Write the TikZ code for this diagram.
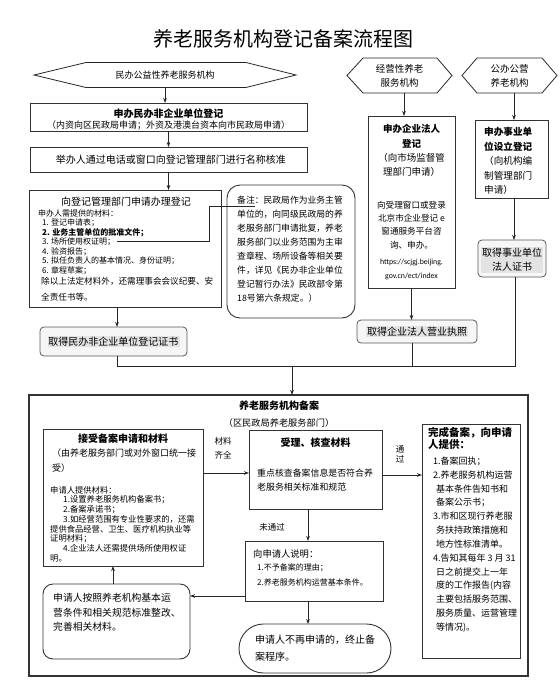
\documentclass[tikz,border=0pt]{standalone}
\usepackage{fontspec}
\setmainfont{Noto Sans CJK SC}
\newfontfamily\carl{Carlito}
\usetikzlibrary{arrows.meta,calc}
\newcommand\fsz[2]{\fontsize{#1}{#2}\selectfont}
\newcommand\bx[6]{\node[#6, anchor=north west, minimum width=#4pt-#2pt, minimum height=#5pt-#3pt] (#1) at (#2,#3) {};}
\tikzset{
 bxs/.style={draw=black!80, line width=0.9pt, fill=white, inner sep=0pt, outer sep=0pt},
 rbx/.style={bxs, rounded corners=#1},
 cert/.style={draw=black!65, line width=0.8pt, fill=gray!7, rounded corners=4pt, inner sep=0pt, outer sep=0pt},
 hl/.style={fill=gray!22, inner sep=1pt},
 tl/.style={anchor=base west, inner sep=0pt, align=left},
 tc/.style={inner sep=0pt, align=center},
 hexn/.style={inner sep=0pt, outer sep=0pt, align=center},
 arr/.style={-{Stealth[length=5pt,width=3.6pt]}, line width=0.8pt, draw=black!85},
 ln/.style={line width=0.8pt, draw=black!85},
}
\begin{document}
\begin{tikzpicture}[x=1pt,y=-1pt]
\useasboundingbox (0,0) rectangle (560,686);
\fill[white] (0,0) rectangle (560,686);

\node[font=\fsz{20}{24}] (title) at (283,39) {养老服务机构登记备案流程图};

% ---------- hexagons ----------
\node[hexn, minimum width=262pt, minimum height=25pt, font=\fsz{9}{11}] (h1) at (165,75) {民办公益性养老服务机构};
\draw[ln] (h1.west) -- ([xshift=52pt]h1.north west) -- ([xshift=-50pt]h1.north east) -- (h1.east) -- ([xshift=-50pt]h1.south east) -- ([xshift=52pt]h1.south west) -- cycle;

\node[hexn, minimum width=105pt, minimum height=35pt, font=\fsz{9.5}{14}] (h2) at (399.5,75.5) {经营性养老\\服务机构};
\draw[ln] (h2.west) -- ([xshift=16pt]h2.north west) -- ([xshift=-15pt]h2.north east) -- (h2.east) -- ([xshift=-15pt]h2.south east) -- ([xshift=16pt]h2.south west) -- cycle;

\node[hexn, minimum width=95pt, minimum height=35pt, font=\fsz{9.5}{14}] (h3) at (509.5,75.5) {公办公营\\养老机构};
\draw[ln] (h3.west) -- ([xshift=15pt]h3.north west) -- ([xshift=-15pt]h3.north east) -- (h3.east) -- ([xshift=-15pt]h3.south east) -- ([xshift=15pt]h3.south west) -- cycle;

% ---------- left column ----------
\bx{b1}{30}{103}{307}{131}{bxs}
\node[tc, font=\fsz{9}{11.5}] (b1t) at (168.5,119.5) {{\bfseries\fsz{10}{11.5}申办民办非企业单位登记}\\（内资向区民政局申请；外资及港澳台资本向市民政局申请）};

\bx{b2}{30}{147}{307}{172}{bxs}
\node[font=\fsz{10}{12}, inner sep=0pt] (b2t) at (171,159.5) {举办人通过电话或窗口向登记管理部门进行名称核准};

\bx{b3}{29}{190}{221}{307}{bxs}
\node[font=\fsz{10}{12}, inner sep=0pt] (b3h) at (126,202) {向登记管理部门申请办理登记};
\node[tl, font=\fsz{8}{9.5}] (b3l) at (38,273) {申办人需提供的材料：\\\hspace{4pt}1. 登记申请表；\\\hspace{4pt}\textbf{2. 业务主管单位的批准文件；}\\\hspace{4pt}3. 场所使用权证明；\\\hspace{4pt}4. 验资报告；\\\hspace{4pt}5. 拟任负责人的基本情况、身份证明；\\\hspace{4pt}6. 章程草案；};
\node[tl, font=\fsz{8.6}{16}] (b3m) at (41,300.3) {除以上法定材料外，还需理事会会议纪要、安\\全责任书等。};

\bx{nt}{227}{185}{355}{318}{rbx=13pt}
\node[tl, font=\fsz{8.8}{14}] (ntt) at (237,301.3) {备注：民政局作为业务主管\\单位的，向同级民政局的养\\老服务部门申请批复，养老\\服务部门以业务范围为主审\\查章程、场所设备等相关要\\件，详见《民办非企业单位\\登记暂行办法》民政部令第\\18号第六条规定。）};

\coordinate (c3) at (117,241);
\coordinate (cb) at (209,206);
\coordinate (ntu) at (255,206);
\draw[ln, line width=0.7pt] (c3) -| (cb) -- (ntu);

\bx{c1}{40}{327}{187}{356}{cert}
\node[hl, font=\fsz{10}{12}] (c1t) at (113.5,341.5) {取得民办非企业单位登记证书};

% ---------- right columns ----------
\bx{b4}{368}{116}{455}{288}{bxs}
\node[tc, font=\fsz{9.5}{14.3}] (b4a) at (411.5,150.5) {\textbf{申办企业法人}\\\textbf{登记}\\（向市场监督管\\理部门申请）};
\node[tc, font=\fsz{8.6}{13.3}] (b4b) at (411.5,225) {向受理窗口或登录\\北京市企业登记 e\\窗通服务平台咨\\询、申办。};
\node[tc, font=\carl\fsz{7.8}{14}] (b4c) at (411.5,269) {https://scjgj.beijing.\\gov.cn/ect/index};

\bx{b5}{475}{120}{548}{198}{bxs}
\node[tl, font=\fsz{9.6}{14.5}] (b5t) at (484,193.6) {\textbf{申办事业单}\\\textbf{位设立登记}\\（向机构编\\制管理部门\\申请）};

\bx{c2}{478}{240}{546}{277}{cert}
\node[tc, hl, font=\fsz{10}{14}] (c2t) at (512,260) {取得事业单位\\法人证书};

\bx{c3b}{357}{320}{477}{343}{cert}
\node[hl, font=\fsz{10}{12}] (c3t) at (417,331.5) {取得企业法人营业执照};

% ---------- upper connectors ----------
\draw[arr] (h1.south) -- (h1.south |- b1.north);
\draw[arr] (b1.south) -- (b2.north);
\draw[arr] (b2.south) -- (b2.south |- b3.north);
\draw[arr] ([xshift=-8pt]b3.south) -- ([xshift=-8pt]b3.south |- c1.north);
\draw[arr] ([xshift=4.5pt]h2.south) -- ([xshift=4.5pt]h2.south |- b4.north);
\draw[arr] ([xshift=4.5pt]h3.south) -- ([xshift=4.5pt]h3.south |- b5.north);
\draw[arr] ([xshift=2.5pt]b5.south) -- ([xshift=2.5pt]b5.south |- c2.north);
\draw[arr] (b4.south) -- (b4.south |- c3b.north);

\coordinate (jm) at (292,366);
\draw[ln] ([xshift=3.5pt]c1.south) |- (jm);
\draw[ln] ([xshift=-5pt]c3b.south) |- (jm);
\draw[ln] ([xshift=3pt]c2.south) |- (jm);

% ---------- lower section ----------
\bx{bb}{29}{395}{528}{676}{bxs, line width=1.1pt}
\draw[arr] (jm) -- (jm |- bb.north);
\node[font=\bfseries\fsz{10}{12}] (bbt1) at (279,406) {养老服务机构备案};
\node[font=\fsz{9.2}{11}] (bbt2) at (279,423) {（区民政局养老服务部门）};

\bx{A}{43}{429}{203}{566}{bxs}
\node[font=\bfseries\fsz{10}{12}, inner sep=0pt] (At) at (123,438.5) {接受备案申请和材料};
\node[tl, font=\fsz{9}{15}] (Au) at (52,471.4) {（由养老服务部门或对外窗口统一接\\受）};
\node[tl, font=\fsz{8.3}{9.7}] (Al) at (50,561.1) {申请人提供材料：\\\hspace{13pt}1.设置养老服务机构备案书；\\\hspace{13pt}2.备案承诺书；\\\hspace{13pt}3.如经营范围有专业性要求的，还需\\提供食品经营、卫生、医疗机构执业等\\证明材料；\\\hspace{13pt}4.企业法人还需提供场所使用权证\\明。};

\bx{B}{249}{430}{382}{509}{bxs}
\node[font=\bfseries\fsz{10}{12}, inner sep=0pt] (Bt) at (315.5,443) {受理、核查材料};
\node[tl, font=\fsz{8.9}{14}] (Bb) at (257,490.4) {重点核查备案信息是否符合养\\老服务相关标准和规范};

\bx{C}{422}{424}{520}{658}{bxs}
\node[tl, font=\bfseries\fsz{10.5}{12.5}] (Ct) at (428,448.5) {完成备案，向申请\\人提供：};
\node[tl, font=\fsz{9}{13.83}] (Cl) at (433,630.4) {1.备案回执；\\2.养老服务机构运营\\\hspace{3pt}基本条件告知书和\\\hspace{3pt}备案公示书；\\3.市和区现行养老服\\\hspace{3pt}务扶持政策措施和\\\hspace{3pt}地方性标准清单。\\4.告知其每年 3 月 31\\\hspace{3pt}日之前提交上一年\\\hspace{3pt}度的工作报告(内容\\\hspace{3pt}主要包括服务范围、\\\hspace{3pt}服务质量、运营管理\\\hspace{3pt}等情况)。};

\bx{D}{245}{541}{383}{601}{bxs}
\node[anchor=base west, inner sep=0pt, font=\fsz{9.3}{11}] (Dt) at (253,557.5) {向申请人说明：};
\node[tl, font=\fsz{8}{15}] (Dl) at (257,585) {1.不予备案的理由；\\2.养老服务机构运营基本条件。};

\bx{E}{239}{624}{391}{673}{rbx=24.5pt}
\node[tl, font=\fsz{10}{17}] (Et) at (255,660.8) {申请人不再申请的，终止备\\案程序。};

\bx{F}{43}{584}{190}{659}{rbx=10pt}
\node[tl, font=\fsz{9.8}{14.5}] (Ft) at (53,630.8) {申请人按照养老机构基本运\\营条件和相关规范标准整改、\\完善相关材料。};

\node[tc, font=\fsz{8.5}{14}] (lab1) at (223,448) {材料\\齐全};
\node[tc, font=\fsz{8.5}{10}] (lab2) at (400,454) {通\\过};
\node[font=\fsz{8.5}{10}, inner sep=0pt] (lab3) at (272,527) {未通过};

% ---------- lower connectors ----------
\coordinate (abm) at ([yshift=-3.5pt]B.west);
\draw[arr] (abm -| A.east) -- (abm);
\coordinate (bcm) at ([yshift=-5.5pt]B.east);
\draw[arr] (bcm) -- (bcm -| C.west);
\draw[arr] ([xshift=-7.5pt]B.south) -- ([xshift=-7.5pt]B.south |- D.north);
\draw[arr] ([xshift=-6pt]D.south) -- ([xshift=-6pt]D.south |- E.north);
\coordinate (dw) at ([yshift=-25pt]D.west);
\draw[arr] (dw) -- (dw -| F.east);
\draw[arr] ([xshift=-3.5pt]F.north) -- ([xshift=-3.5pt]F.north |- A.south);
\end{tikzpicture}
\end{document}
